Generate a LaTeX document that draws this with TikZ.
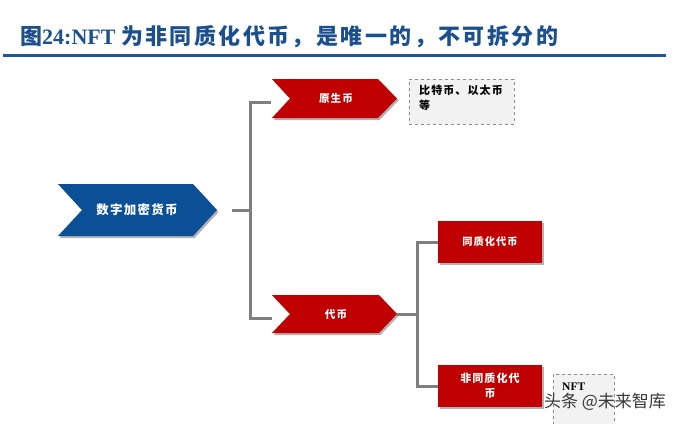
\documentclass[tikz,border=0pt]{standalone}
\usepackage{fontspec}
\setmainfont{Liberation Serif}
\newfontfamily\cjkt[LetterSpace=11]{Noto Sans CJK SC}
\newfontfamily\cjk[LetterSpace=10]{Noto Sans CJK SC}
\newfontfamily\cjkw{Noto Sans CJK SC}
\usetikzlibrary{shadows}
\definecolor{titleblue}{HTML}{1B4F8E}
\definecolor{ruleblue}{HTML}{1E55A0}
\definecolor{chevblue}{HTML}{0B4F97}
\definecolor{chevred}{HTML}{C00000}
\definecolor{conngray}{HTML}{7F7F7F}
\definecolor{boxgray}{HTML}{F2F2F2}
\definecolor{dashgray}{HTML}{8C8C8C}
\tikzset{
  shad/.style={drop shadow={shadow xshift=1.6pt, shadow yshift=-2pt, opacity=0.3, fill=black}},
  chevlabel/.style={text=white, inner sep=0pt, font=\bfseries},
  conn/.style={draw=conngray, line width=3pt},
  redbox/.style={fill=chevred, shad, text=white, inner sep=0pt, minimum width=104pt, minimum height=42pt, align=center, font=\bfseries},
  dbox/.style={fill=boxgray, draw=dashgray, dashed, line width=1pt, inner sep=0pt},
}
\begin{document}
\begin{tikzpicture}[x=1pt,y=-1pt]
\useasboundingbox (0,0) rectangle (680,423);
\fill[white] (0,0) rectangle (680,423);
\begin{scope}
\clip (0,0) rectangle (680,423);

% title
\node[anchor=west, inner sep=0pt, text=titleblue, font=\bfseries\fontsize{22}{24}\selectfont] (title) at (20,37)
  {{\cjkt 图}24:NFT {\cjkt 为非同质化代币，是唯一的，不可拆分的}};
\draw[ruleblue, line width=3pt] (3,55) -- (666,55);

% chevrons
\fill[chevblue, shad] (58,184) -- (193,184) -- (217,210) -- (193,236) -- (58,236) -- (82,210) -- cycle;
\node[chevlabel, font=\bfseries\fontsize{12.5}{14}\selectfont] (crypto) at (137,210) {\cjk 数字加密货币};

\fill[chevred, shad] (272,79) -- (378,79) -- (397,98.5) -- (378,118) -- (272,118) -- (290,98.5) -- cycle;
\node[chevlabel, font=\bfseries\fontsize{10.6}{12}\selectfont] (native) at (336,98.5) {\cjk 原生币};

\fill[chevred, shad] (272,295) -- (379,295) -- (397,314) -- (379,333) -- (272,333) -- (290,314) -- cycle;
\node[chevlabel, font=\bfseries\fontsize{10.6}{12}\selectfont] (token) at (336,314) {\cjk 代币};

% red boxes
\node[redbox, font=\bfseries\fontsize{10.2}{12}\selectfont] (fung) at (490,242) {\cjk 同质化代币};
\node[redbox, font=\bfseries\fontsize{11}{15}\selectfont] (nonfung) at (490,386) {\cjk 非同质化代\\\cjk 币};

% dashed boxes
\node[dbox, minimum width=105pt, minimum height=45pt] (example) at (461.5,101.5) {};
\node[anchor=north west, inner sep=0pt, align=left, font=\bfseries\fontsize{11}{15}\selectfont] (exampletext) at (419,85)
  {\cjk 比特币、以太币\\\cjk 等};
\node[dbox, minimum width=61pt, minimum height=70pt] (nftbox) at (583.5,409) {};
\node[anchor=west, inner sep=0pt, font=\bfseries\fontsize{11.5}{13}\selectfont] (nfttext) at (562,387) {NFT};

% connector coordinates
\coordinate (cryptoOut) at (232,210);
\coordinate (split1) at (250,210);
\coordinate (nativeIn) at (271,102);
\coordinate (tokenIn) at (272,318);
\coordinate (tokenOut) at (397,314);
\coordinate (split2) at (417,314);
\coordinate (fungIn) at (fung.west);
\coordinate (nonfungIn) at (nonfung.west);

\draw[conn] (cryptoOut) -- (split1);
\draw[conn] (nativeIn) -| (split1) |- (tokenIn);
\draw[conn] (tokenOut) -- (split2);
\draw[conn] (fungIn) -| (split2) |- (nonfungIn);

% watermark
\node[inner sep=0pt, text=black!78, font=\cjkw\fontsize{17}{18}\selectfont] (watermark) at (605,402) {头条 @未来智库};
\end{scope}
\end{tikzpicture}
\end{document}
